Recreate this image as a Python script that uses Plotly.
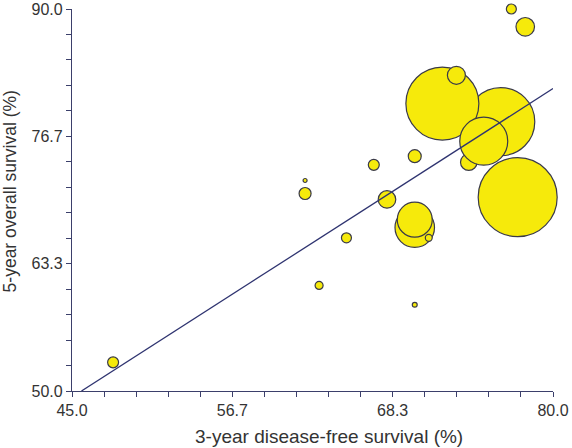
import plotly.graph_objects as go

# ---- data ----
dfs_3yr = [76.2, 71.95, 73.87, 74.96, 72.97, 77.43, 69.94, 69.94, 70.96,
           77.98, 76.97, 67.92, 69.94, 66.96, 61.96, 61.96, 64.97, 62.98, 69.94, 47.99]
os_5yr = [78.2, 80.1, 73.96, 76.16, 83.06, 70.3, 67.11, 67.94, 66.04,
          88.14, 90.0, 70.06, 74.59, 73.68, 72.04, 70.68, 66.04, 61.06, 59.03, 53.0]
weights = [1156, 1332, 68, 576, 81, 1560, 390, 306, 12,
           86, 25, 77, 42, 30, 4, 36, 25, 16, 6, 30]

fit_x = [45.69, 80.0]
fit_y = [50.0, 81.67]

x_tick_vals = [45.0, 56.6667, 68.3333, 80.0]
x_tick_text = ["45.0", "56.7", "68.3", "80.0"]
y_tick_vals = [50.0, 63.3333, 76.6667, 90.0]
y_tick_text = ["50.0", "63.3", "76.7", "90.0"]

x_title = "3-year disease-free survival (%)"
y_title = "5-year overall survival (%)"

AX = "#3b3f6b"
TXT = "#333333"
FONT = "Liberation Sans, Arial, Helvetica, sans-serif"

fig = go.Figure()
fig.add_trace(go.Scatter(
    x=dfs_3yr, y=os_5yr, mode="markers",
    marker=dict(size=weights, sizemode="area", sizeref=0.5, sizemin=0,
                color="#f6ea0b", opacity=1,
                line=dict(color="#3a3a48", width=1.2)),
    cliponaxis=False, showlegend=False, hoverinfo="x+y"))
fig.add_trace(go.Scatter(
    x=fit_x, y=fit_y, mode="lines",
    line=dict(color="#2f3470", width=1.3),
    showlegend=False, hoverinfo="skip"))

axis_common = dict(showline=True, linecolor=AX, linewidth=1.3, automargin=False,
                   ticks="outside", ticklen=5, tickwidth=1.2, tickcolor=AX,
                   showgrid=False, zeroline=False, mirror=False,
                   tickfont=dict(family=FONT, size=16, color=TXT))

fig.update_xaxes(range=[45, 80], tickmode="array", tickvals=x_tick_vals, ticktext=x_tick_text,
                 minor=dict(tickmode="linear", tick0=45, dtick=35/15, ticks="outside",
                            ticklen=5, tickwidth=1.2, tickcolor=AX, showgrid=False),
                 **axis_common)
fig.update_yaxes(range=[50, 90], tickmode="array", tickvals=y_tick_vals, ticktext=y_tick_text,
                 minor=dict(tickmode="linear", tick0=50, dtick=40/15, ticks="outside",
                            ticklen=5, tickwidth=1.2, tickcolor=AX, showgrid=False),
                 **axis_common)

fig.update_layout(
    template="none",
    width=572, height=448,
    margin=dict(l=72, r=19, t=9, b=57, autoexpand=False),
    paper_bgcolor="white", plot_bgcolor="white",
    font=dict(family=FONT, color=TXT),
    annotations=[
        dict(text=x_title, xref="paper", yref="paper", x=0.535, y=-0.118,
             xanchor="center", yanchor="middle", showarrow=False,
             font=dict(family=FONT, size=19, color=TXT)),
        dict(text=y_title, xref="paper", yref="paper", x=-0.130, y=0.5237,
             xanchor="center", yanchor="middle", textangle=-90, showarrow=False,
             font=dict(family=FONT, size=17.5, color=TXT)),
    ],
)

fig.write_html("out.html", config={"displayModeBar": False},
               post_script="document.body.style.margin='0';")
